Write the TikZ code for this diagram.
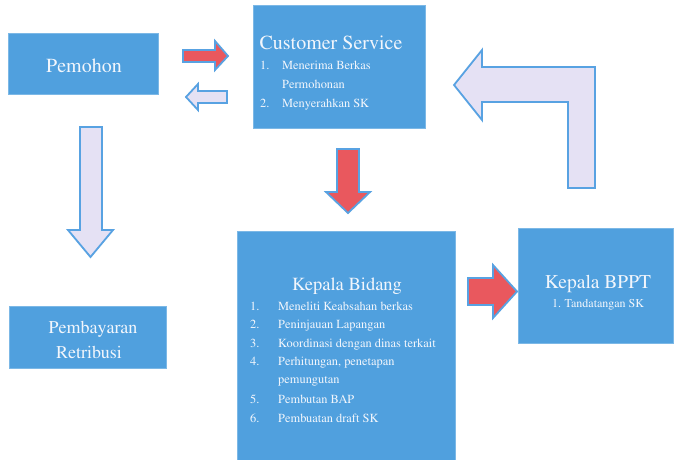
\documentclass[tikz,border=0pt]{standalone}
\usepackage[T1]{fontenc}
\renewcommand{\rmdefault}{ptm}

\definecolor{boxblue}{RGB}{80,160,222}
\definecolor{boxtext}{RGB}{242,246,252}
\definecolor{arrowred}{RGB}{233,88,94}
\definecolor{arrowpale}{RGB}{229,225,244}
\definecolor{arrowedge}{RGB}{88,162,226}

\tikzset{
  box/.style={rectangle,draw=boxblue!75!white,line width=0.8pt,fill=boxblue,inner sep=0pt},
  lbl/.style={text=boxtext,inner sep=0pt,anchor=base},
  item/.style={text=boxtext,inner sep=0pt,anchor=base west,font=\rmfamily\fontsize{12.4}{14}\selectfont},
  redarrow/.style={draw=arrowedge,line width=1.8pt,fill=arrowred,line join=miter},
  palearrow/.style={draw=arrowedge,line width=1.8pt,fill=arrowpale,line join=miter}
}

\begin{document}
\begin{tikzpicture}[x=1pt,y=-1pt]
        \useasboundingbox[fill=white] (0,0) rectangle (674,460);

        % Draw boxes
        \node[box,minimum width=150,minimum height=61] (pemohon) at (83,63.5) {};
        \node[box,minimum width=172,minimum height=123] (cs) at (339,66.5) {};
        \node[box,minimum width=218,minimum height=236] (bidang) at (346,349) {};
        \node[box,minimum width=155,minimum height=115] (bppt) at (595.5,285.5) {};
        \node[box,minimum width=157,minimum height=62] (bayar) at (87.5,337) {};

        % Draw box texts
        \node[lbl,font=\rmfamily\fontsize{20}{24}\selectfont] (pemohonT) at (84,73) {Pemohon};
        \node[lbl,font=\rmfamily\fontsize{20}{24}\selectfont] (csT) at (331,50) {Customer Service};
        \node[lbl,font=\rmfamily\fontsize{18.5}{22}\selectfont] (bidangT) at (347,290) {Kepala Bidang};
        \node[lbl,font=\rmfamily\fontsize{19.5}{23}\selectfont] (bpptT) at (598,288) {Kepala BPPT};
        \node[lbl,font=\rmfamily\fontsize{12}{14}\selectfont] (bpptA) at (598,307) {1. Tandatangan SK};
        \node[lbl,font=\rmfamily\fontsize{18}{22}\selectfont] (bayarA) at (93,333) {Pembayaran};
        \node[lbl,font=\rmfamily\fontsize{18}{22}\selectfont] (bayarB) at (89,358) {Retribusi};

        % Customer Service list
        \node[item] (csN1) at (260,70) {1.};
        \node[item] (csI1) at (282,70) {Menerima Berkas};
        \node[item] (csI1b) at (282,88) {Permohonan};
        \node[item] (csN2) at (260,107) {2.};
        \node[item] (csI2) at (282,107) {Menyerahkan SK};

        % Kepala Bidang list
        \node[item] (bdN1) at (250,310) {1.};
        \node[item] (bdI1) at (278,310) {Meneliti Keabsahan berkas};
        \node[item] (bdN2) at (250,328) {2.};
        \node[item] (bdI2) at (278,328) {Peninjauan Lapangan};
        \node[item] (bdN3) at (250,347) {3.};
        \node[item] (bdI3) at (278,347) {Koordinasi dengan dinas terkait};
        \node[item] (bdN4) at (250,365) {4.};
        \node[item] (bdI4) at (278,365) {Perhitungan, penetapan};
        \node[item] (bdI4b) at (278,383) {pemungutan};
        \node[item] (bdN5) at (250,403) {5.};
        \node[item] (bdI5) at (278,403) {Pembutan BAP};
        \node[item] (bdN6) at (250,422) {6.};
        \node[item] (bdI6) at (278,422) {Pembuatan draft SK};

        % Draw block arrows
        \draw[redarrow] (183,50) -- (215,50) -- (215,41) -- (228,56) -- (215,70) -- (215,62) -- (183,62) -- cycle;
        \draw[palearrow] (227,91) -- (198,91) -- (198,84) -- (186,97) -- (198,110) -- (198,103) -- (227,103) -- cycle;
        \draw[palearrow] (80,127) -- (102,127) -- (102,230) -- (113,230) -- (90.5,257) -- (68,230) -- (80,230) -- cycle;
        \draw[redarrow] (337,149) -- (359,149) -- (359,192) -- (370,192) -- (348,213) -- (326,192) -- (337,192) -- cycle;
        \draw[redarrow] (468,278) -- (493,278) -- (493,265) -- (517,291.5) -- (493,318) -- (493,305) -- (468,305) -- cycle;
        \draw[palearrow] (454,85) -- (482,50) -- (482,67) -- (595,67) -- (595,188) -- (568,188) -- (568,102) -- (482,102) -- (482,120) -- cycle;
    \end{tikzpicture}
\end{document}
